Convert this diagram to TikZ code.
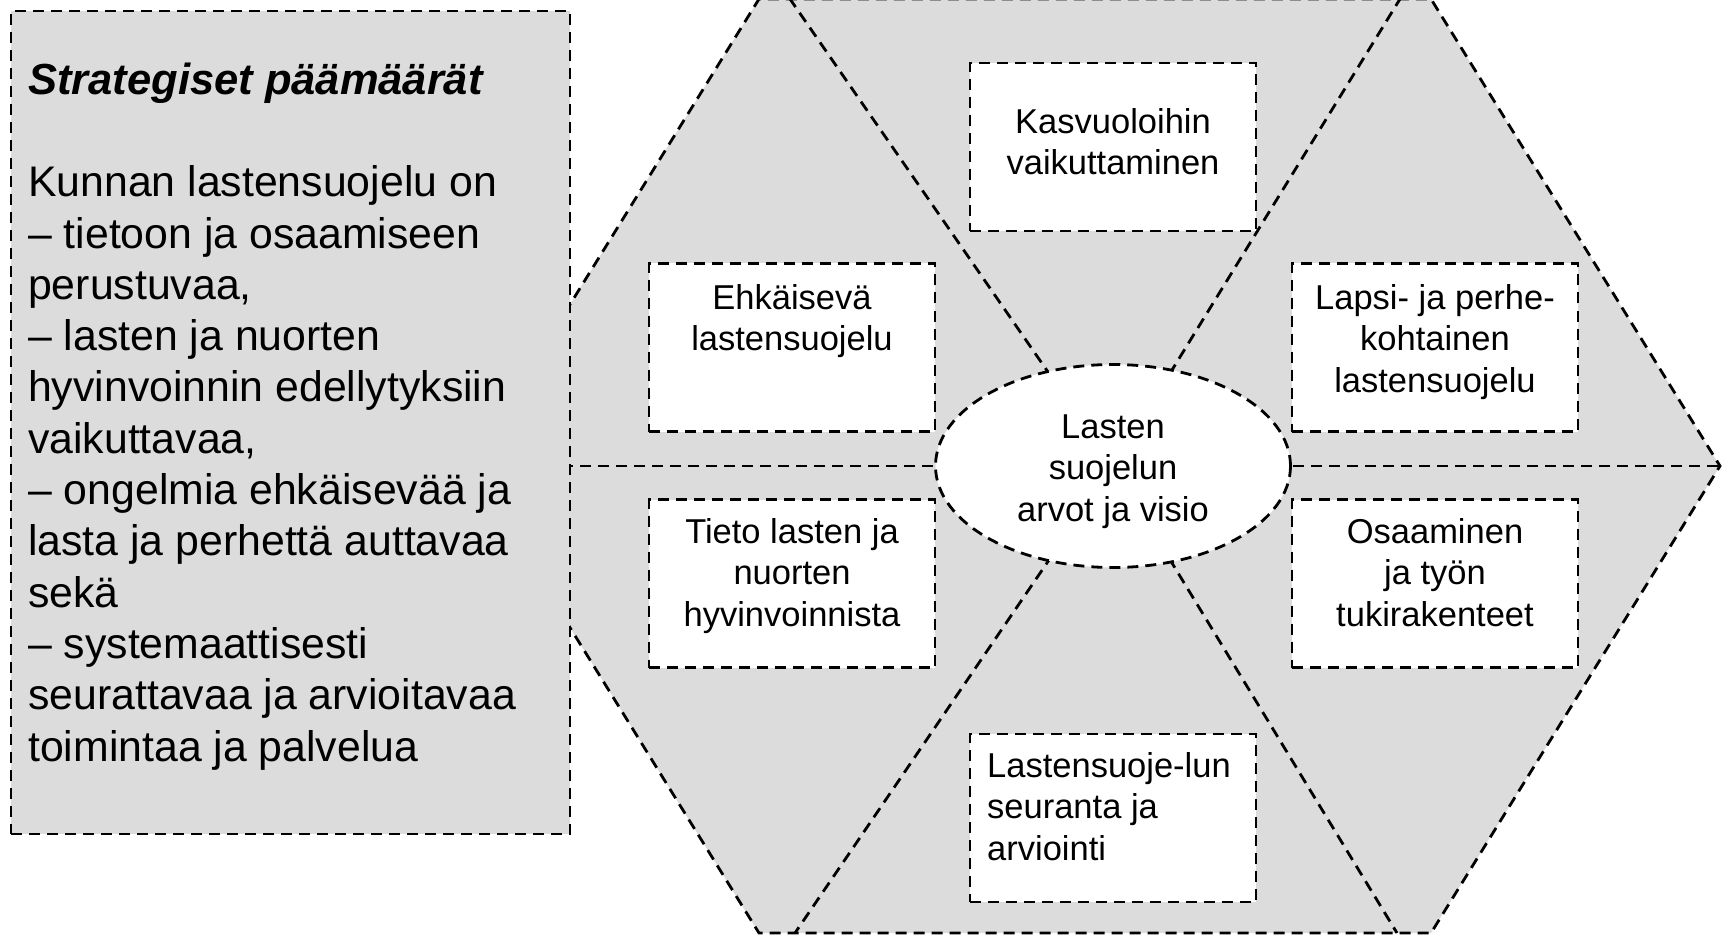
\documentclass[tikz,border=0pt]{standalone}
\usepackage{fontspec}
\setmainfont{Liberation Sans}
\usetikzlibrary{shapes.geometric}
\definecolor{panelgray}{RGB}{220,220,220}
\begin{document}
\begin{tikzpicture}[x=1pt,y=-1pt,
  dline/.style={draw=black,line width=2.8pt,dash pattern=on 11pt off 7pt},
  wbox/.style={dline,fill=white,rectangle,inner sep=0pt,minimum width=286pt,minimum height=168pt},
  btext/.style={inner sep=0pt,align=center,font=\fontsize{34.5}{41.5}\selectfont},
  ltext/.style={inner sep=0pt,align=left,font=\fontsize{42.8}{51.3}\selectfont}]
\useasboundingbox (0,0) rectangle (1725,936);

% hexagon
\draw[dline,fill=panelgray] (470,466) -- (759,-1) -- (1431,-1) -- (1720,466) -- (1431,933) -- (759,933) -- cycle;

% spokes
\coordinate (hc) at (1113,466);
\coordinate (pl) at (470,466);
\coordinate (pr) at (1720,466);
\coordinate (ptl) at (790,-1);
\coordinate (ptr) at (1400,-1);
\coordinate (pbl) at (795,933);
\coordinate (pbr) at (1397,933);
\draw[dline] (hc) -- (pl);
\draw[dline] (hc) -- (pr);
\draw[dline] (hc) -- (ptl);
\draw[dline] (hc) -- (ptr);
\draw[dline] (hc) -- (pbl);
\draw[dline] (hc) -- (pbr);

% boxes
\node[wbox] (kas) at (1113,147) {};
\node[wbox] (ehk) at (792,347.5) {};
\node[wbox] (lap) at (1435,347.5) {};
\node[wbox] (tie) at (792,583.5) {};
\node[wbox] (osa) at (1435,583.5) {};
\node[wbox] (las) at (1113,818) {};

\node[btext,anchor=north] (kast) at (1113,104) {\strut Kasvuoloihin\\vaikuttaminen};
\node[btext,anchor=north] (ehkt) at (792,280) {\strut Ehkäisevä\\lastensuojelu};
\node[btext,anchor=north] (lapt) at (1435,280) {\strut Lapsi- ja perhe-\\kohtainen\\lastensuojelu};
\node[btext,anchor=north] (tiet) at (792,514) {\strut Tieto lasten ja\\nuorten\\hyvinvoinnista};
\node[btext,anchor=north] (osat) at (1435,514) {\strut Osaaminen\\ja työn\\tukirakenteet};
\node[btext,align=left,anchor=north west] (last) at (987,748) {\strut Lastensuoje-lun\\seuranta ja\\arviointi};

% centre ellipse
\node[dline,fill=white,ellipse,inner sep=0pt,minimum width=355pt,minimum height=203pt] (ell) at (hc) {};
\node[btext,anchor=north] (ellt) at (1113,409) {\strut Lasten\\suojelun\\arvot ja visio};

% left panel
\node[dline,fill=panelgray,rectangle,inner sep=0pt,minimum width=559pt,minimum height=823pt] (panel) at (290.5,422.5) {};
\node[ltext,anchor=north west,font=\fontsize{43.5}{51.3}\selectfont\bfseries\itshape] (title) at (28,58.1) {\strut Strategiset päämäärät};
\node[ltext,anchor=north west] (body) at (28,160.6) {\strut Kunnan lastensuojelu on\\
– tietoon ja osaamiseen\\
perustuvaa,\\
– lasten ja nuorten\\
hyvinvoinnin edellytyksiin\\
vaikuttavaa,\\
– ongelmia ehkäisevää ja\\
lasta ja perhettä auttavaa\\
sekä\\
– systemaattisesti\\
seurattavaa ja arvioitavaa\\
toimintaa ja palvelua};
\end{tikzpicture}
\end{document}
